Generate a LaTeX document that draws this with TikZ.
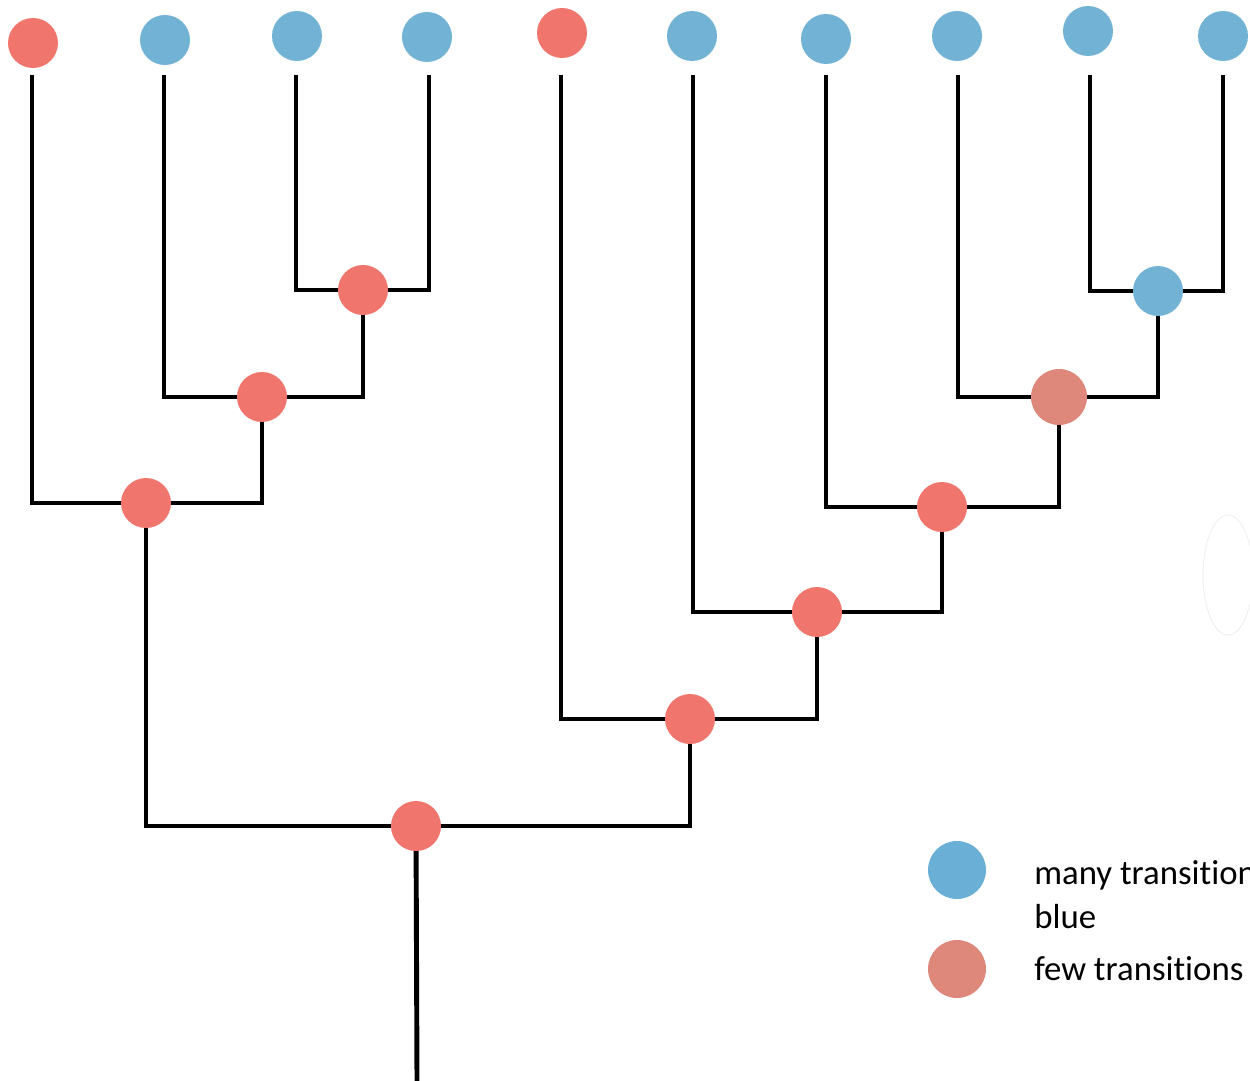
\documentclass[tikz,border=0pt]{standalone}
\usepackage{fontspec}
\setmainfont[Ligatures=NoCommon]{Carlito}
\usetikzlibrary{backgrounds}
\definecolor{nodered}{HTML}{F0756C}
\definecolor{nodeblue}{HTML}{72B2D4}
\definecolor{legblue}{HTML}{6AAFD6}
\definecolor{salmon}{HTML}{DE877B}
\begin{document}
\begin{tikzpicture}[x=0.02cm,y=-0.02cm,
  dot/.style={circle,inner sep=0pt,minimum size=1cm},
  rdot/.style={dot,fill=nodered},
  bdot/.style={dot,fill=nodeblue},
  branch/.style={line width=2.8pt,line join=miter},
  keytext/.style={anchor=base west,inner sep=0pt,align=left,
    font=\fontsize{19.8pt}{25pt}\selectfont}]
\useasboundingbox (0,0) rectangle (1250,1081);
\clip (0,0) rectangle (1250,1081);

% tips of the tree
\node[rdot] (l1) at (33,43) {};
\node[bdot] (l2) at (165,40) {};
\node[bdot] (l3) at (297,36) {};
\node[bdot] (l4) at (427,37) {};
\node[rdot] (l5) at (562,33) {};
\node[bdot] (l6) at (692,36) {};
\node[bdot] (l7) at (826,39) {};
\node[bdot] (l8) at (957,36) {};
\node[bdot] (l9) at (1088,31) {};
\node[bdot] (l10) at (1223,36) {};

% top ends of the tip branches
\coordinate (t1) at (32,75);
\coordinate (t2) at (164,75);
\coordinate (t3) at (296,75);
\coordinate (t4) at (429,75);
\coordinate (t5) at (561,75);
\coordinate (t6) at (693,75);
\coordinate (t7) at (826,75);
\coordinate (t8) at (958,75);
\coordinate (t9) at (1090,75);
\coordinate (t10) at (1223,75);
\coordinate (rootend) at (417,1081);

% internal nodes
\node[rdot] (a) at (363,290) {};
\node[rdot] (b) at (262,397) {};
\node[rdot] (c) at (146,503) {};
\node[rdot] (d) at (416,826) {};
\node[rdot] (e) at (690,719) {};
\node[rdot] (f) at (817,612) {};
\node[rdot] (g) at (942,507) {};
\node[dot,fill=salmon,minimum size=1.12cm] (h) at (1059,397) {};
\node[bdot] (i) at (1158,291) {};

\begin{scope}[on background layer]
  \draw[branch] (t3) |- (a.center) -| (t4);
  \draw[branch] (t2) |- (b.center) -| (a.center);
  \draw[branch] (t1) |- (c.center) -| (b.center);
  \draw[branch] (c.center) |- (d.center) -| (e.center);
  \draw[branch] (d.center) -- (rootend);
  \draw[branch] (t5) |- (e.center) -| (f.center);
  \draw[branch] (t6) |- (f.center) -| (g.center);
  \draw[branch] (t7) |- (g.center) -| (h.center);
  \draw[branch] (t8) |- (h.center) -| (i.center);
  \draw[branch] (t9) |- (i.center) -| (t10);
\end{scope}

% faint outline at the right margin
\draw[black!8,line width=0.4pt] (1228,575) ellipse [x radius=25,y radius=60];

% legend
\node[dot,fill=legblue,minimum size=1.16cm] (kb) at (957,870) {};
\node[dot,fill=salmon,minimum size=1.16cm] (kr) at (957,969) {};
\node[keytext] (kbt) at (1034,928) {many transitions\\blue};
\node[keytext] (krt) at (1034,980) {few transitions};
\end{tikzpicture}
\end{document}
